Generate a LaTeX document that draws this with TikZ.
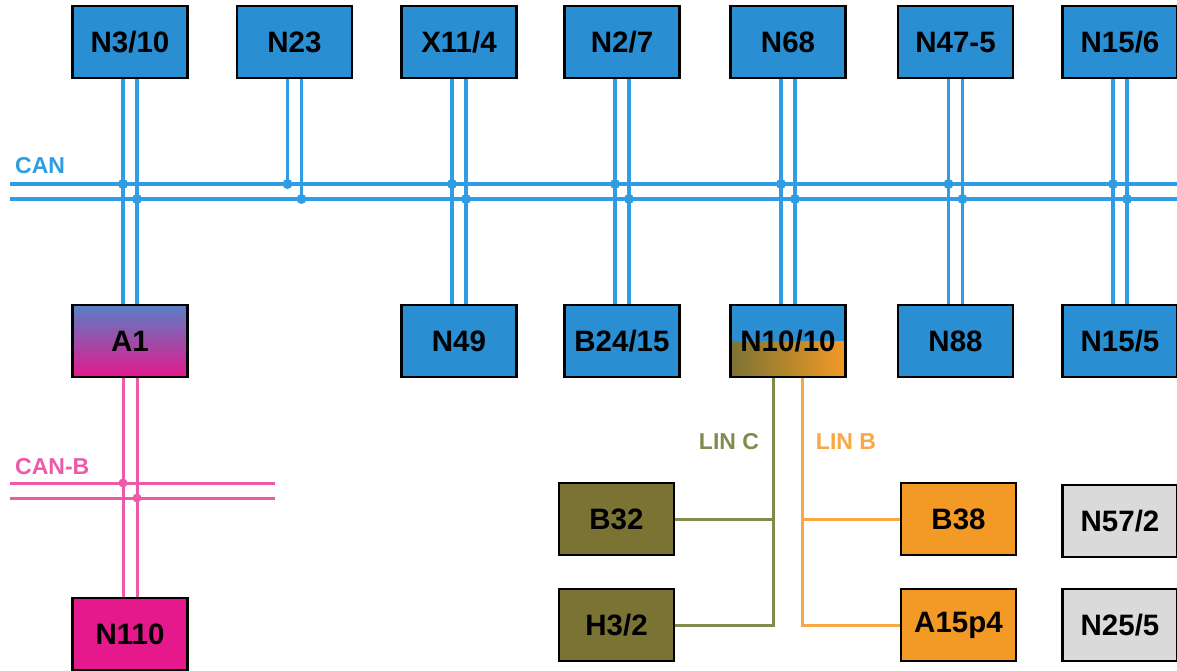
\documentclass[tikz,border=0pt]{standalone}
\usepackage{fontspec}
\setmainfont{Liberation Sans}
\definecolor{ecublue}{HTML}{2A8ED2}
\definecolor{canblue}{HTML}{2E9DE3}
\definecolor{pinkfill}{HTML}{E5188C}
\definecolor{canpink}{HTML}{EC5AA8}
\definecolor{olivefill}{HTML}{7B7334}
\definecolor{linc}{HTML}{7F8C4C}
\definecolor{orangefill}{HTML}{F29A25}
\definecolor{linb}{HTML}{F7A843}
\definecolor{grayfill}{HTML}{DADADA}
\begin{document}
\begin{tikzpicture}[x=1pt,y=-1pt,
  ecu/.style={draw=black, line width=2.4pt, minimum width=115pt, minimum height=72pt, inner sep=0pt, font=\fontsize{29.5}{31}\selectfont\bfseries},
  bluebox/.style={ecu, fill=ecublue},
  olivebox/.style={ecu, fill=olivefill},
  orangebox/.style={ecu, fill=orangefill},
  graybox/.style={ecu, fill=grayfill},
  pinkbox/.style={ecu, fill=pinkfill},
  canwire/.style={draw=canblue, line width=3.5pt},
  canbwire/.style={draw=canpink, line width=3pt},
  lincwire/.style={draw=linc, line width=3pt},
  linbwire/.style={draw=linb, line width=3pt},
  busname/.style={font=\fontsize{23}{25}\selectfont\bfseries, inner sep=0pt, anchor=west},
  candot/.style={circle, fill=canblue, inner sep=0pt, minimum size=10pt},
  canbdot/.style={circle, fill=canpink, inner sep=0pt, minimum size=9pt}
]
\useasboundingbox (0,0) rectangle (1177,671);

% top row
\node[bluebox] (n310) at (130,42) {N3/10};
\node[bluebox] (n23)  at (294.5,42) {N23};
\node[bluebox] (x114) at (459,42) {X11/4};
\node[bluebox] (n27)  at (622,42) {N2/7};
\node[bluebox] (n68)  at (788,42) {N68};
\node[bluebox] (n475) at (955.5,42) {N47-5};
\node[bluebox] (n156) at (1120,42) {N15/6};

% middle row
\node[ecu, shading=axis, top color={rgb,255:red,88;green,128;blue,198}, middle color={rgb,255:red,170;green,80;blue,170}, bottom color=pinkfill, shading angle=0] (a1) at (130,341) {A1};
\node[bluebox] (n49)   at (459,341) {N49};
\node[bluebox] (b2415) at (622,341) {B24/15};
\node[ecu, path picture={
    \fill[ecublue] (path picture bounding box.north west) rectangle (path picture bounding box.east);
    \shade[left color=olivefill, middle color={rgb,255:red,170;green,125;blue,45}, right color=orangefill] (path picture bounding box.west) rectangle (path picture bounding box.south east);
  }] (n1010) at (788,341) {N10/10};
\node[bluebox] (n88)   at (955.5,341) {N88};
\node[bluebox] (n155)  at (1120,341) {N15/5};

% lower rows
\node[olivebox] (b32)   at (616.5,519) {B32};
\node[olivebox] (h32)   at (616.5,625) {H3/2};
\node[orangebox] (b38)  at (958.5,519) {B38};
\node[orangebox] (a15p4) at (958.5,625) {A15p4};
\node[graybox] (n572)   at (1120,521) {N57/2};
\node[graybox] (n255)   at (1120,625) {N25/5};
\node[pinkbox] (n110)   at (130,634) {N110};

% CAN bus
\coordinate (canA1) at (10,184);
\coordinate (canA2) at (1177,184);
\coordinate (canB1) at (10,199);
\coordinate (canB2) at (1177,199);
\draw[canwire] (canA1) -- (canA2);
\draw[canwire] (canB1) -- (canB2);
\node[busname, text=canblue] (canlbl) at (15,166) {CAN};

% CAN-B bus
\coordinate (cbA1) at (10,483);
\coordinate (cbA2) at (275,483);
\coordinate (cbB1) at (10,498);
\coordinate (cbB2) at (275,498);
\draw[canbwire] (cbA1) -- (cbA2);
\draw[canbwire] (cbB1) -- (cbB2);
\node[busname, text=canpink] (canblbl) at (15,467) {CAN-B};

% vertical CAN pairs
\foreach \t/\b in {n310/a1, x114/n49, n27/b2415, n68/n1010, n475/n88, n156/n155} {
  \draw[canwire] ([xshift=-7pt]\t.south) -- ([xshift=-7pt]\b.north);
  \draw[canwire] ([xshift=7pt]\t.south) -- ([xshift=7pt]\b.north);
}
\draw[canwire] ([xshift=-7pt]n23.south) -- ([xshift=-7pt]n23.south |- canA1);
\draw[canwire] ([xshift=7pt]n23.south) -- ([xshift=7pt]n23.south |- canB1);
\foreach \t in {n310, n23, x114, n27, n68, n475, n156} {
  \node[candot] at ([xshift=-7pt]\t.south |- canA1) {};
  \node[candot] at ([xshift=7pt]\t.south |- canB1) {};
}

% CAN-B verticals
\draw[canbwire] ([xshift=-7pt]a1.south) -- ([xshift=-7pt]n110.north);
\draw[canbwire] ([xshift=7pt]a1.south) -- ([xshift=7pt]n110.north);
\node[canbdot] at ([xshift=-7pt]a1.south |- cbA1) {};
\node[canbdot] at ([xshift=7pt]a1.south |- cbB1) {};

% LIN C
\coordinate (lincB) at ([xshift=-15pt]n1010.south |- h32.east);
\draw[lincwire] ([xshift=-15pt]n1010.south) -- (lincB) -- (h32.east);
\draw[lincwire] (b32.east) -- ([xshift=-15pt]n1010.south |- b32.east);
\node[font=\fontsize{23}{25}\selectfont\bfseries, text=linc, inner sep=0pt] (linclbl) at (729,442) {LIN C};

% LIN B
\coordinate (linbB) at ([xshift=14pt]n1010.south |- a15p4.west);
\draw[linbwire] ([xshift=14pt]n1010.south) -- (linbB) -- (a15p4.west);
\draw[linbwire] (b38.west) -- ([xshift=14pt]n1010.south |- b38.west);
\node[font=\fontsize{23}{25}\selectfont\bfseries, text=linb, inner sep=0pt] (linblbl) at (846,442) {LIN B};
\end{tikzpicture}
\end{document}
